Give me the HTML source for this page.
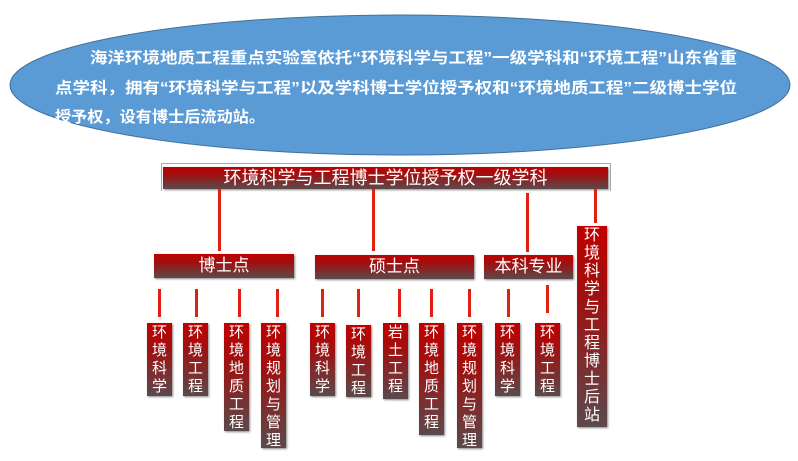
<!DOCTYPE html>
<html><head><meta charset="utf-8"><style>
body{margin:0;width:798px;height:461px;background:#fff;overflow:hidden;position:relative;font-family:"Liberation Sans","Noto Sans CJK SC",sans-serif}
.b{position:absolute;background:linear-gradient(#c00000 0%,#a01010 35%,#5a4a4c 100%);color:#fff;box-shadow:1px 1px 2px #888;overflow:hidden}
.v{width:25px;text-align:center;font-size:15px;line-height:18px;padding-top:1px;box-sizing:border-box}
.l{position:absolute;width:3px;background:#e02010}
.h{height:24px;text-align:center;font-size:17px;line-height:24px}
</style></head><body>
<svg width="798" height="461" style="position:absolute;left:0;top:0">
<ellipse cx="400" cy="85" rx="390" ry="70" fill="#5b9bd5" stroke="#41719c" stroke-width="1"/>
<g font-family="Liberation Sans, Noto Sans CJK SC, sans-serif" font-weight="bold" font-size="15.5" fill="#fff">
<text x="90" y="63" textLength="647" lengthAdjust="spacingAndGlyphs">海洋环境地质工程重点实验室依托“环境科学与工程”一级学科和“环境工程”山东省重</text>
<text x="55" y="93" textLength="682" lengthAdjust="spacingAndGlyphs">点学科，拥有“环境科学与工程”以及学科博士学位授予权和“环境地质工程”二级博士学位</text>
<text x="55" y="122" textLength="210" lengthAdjust="spacingAndGlyphs">授予权，设有博士后流动站。</text>
</g></svg>
<div style="position:absolute;left:161px;top:163px;width:448px;height:27px;border:1px solid #aaa;border-bottom:none"></div>
<div class="b h" style="left:163px;top:167px;width:445px;height:22px;line-height:22px;font-size:18px">环境科学与工程博士学位授予权一级学科</div>
<div class="l" style="left:218px;top:189px;height:62px"></div>
<div class="l" style="left:372px;top:189px;height:62px"></div>
<div class="l" style="left:526px;top:193px;height:59px"></div>
<div class="l" style="left:594px;top:189px;height:34px"></div>
<div class="b h" style="left:154px;top:254px;width:140px">博士点</div>
<div class="b h" style="left:315px;top:255px;width:159px">硕士点</div>
<div class="b h" style="left:484px;top:255px;width:89px">本科专业</div>
<div class="b v" style="left:577px;top:226px;width:30px;height:201px;font-size:16px;padding-top:1px">环<br>境<br>科<br>学<br>与<br>工<br>程<br>博<br>士<br>后<br>站</div>
<div class="l" style="left:158px;top:289px;height:28px"></div>
<div class="l" style="left:195px;top:289px;height:28px"></div>
<div class="l" style="left:238px;top:289px;height:28px"></div>
<div class="l" style="left:276px;top:289px;height:28px"></div>
<div class="l" style="left:321px;top:289px;height:28px"></div>
<div class="l" style="left:357px;top:289px;height:28px"></div>
<div class="l" style="left:398px;top:289px;height:28px"></div>
<div class="l" style="left:430px;top:289px;height:28px"></div>
<div class="l" style="left:468px;top:289px;height:28px"></div>
<div class="l" style="left:507px;top:289px;height:28px"></div>
<div class="l" style="left:546px;top:285px;height:28px"></div>
<div class="b v" style="left:147px;top:323px;height:73px">环<br>境<br>科<br>学</div>
<div class="b v" style="left:183px;top:323px;height:73px">环<br>境<br>工<br>程</div>
<div class="b v" style="left:224px;top:323px;height:108px">环<br>境<br>地<br>质<br>工<br>程</div>
<div class="b v" style="left:261px;top:323px;height:125px">环<br>境<br>规<br>划<br>与<br>管<br>理</div>
<div class="b v" style="left:310px;top:323px;height:73px">环<br>境<br>科<br>学</div>
<div class="b v" style="left:346px;top:325px;height:72px">环<br>境<br>工<br>程</div>
<div class="b v" style="left:383px;top:323px;height:76px">岩<br>土<br>工<br>程</div>
<div class="b v" style="left:419px;top:323px;height:112px">环<br>境<br>地<br>质<br>工<br>程</div>
<div class="b v" style="left:457px;top:323px;height:125px">环<br>境<br>规<br>划<br>与<br>管<br>理</div>
<div class="b v" style="left:495px;top:323px;height:73px">环<br>境<br>科<br>学</div>
<div class="b v" style="left:535px;top:323px;height:73px">环<br>境<br>工<br>程</div>
</body></html>
